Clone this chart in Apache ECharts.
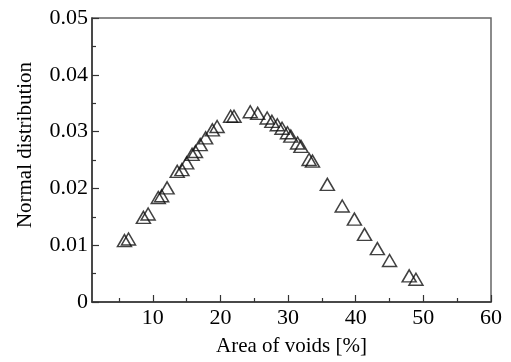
<!DOCTYPE html>
<html>
<head>
<meta charset="utf-8">
<script src="https://cdn.jsdelivr.net/npm/echarts@6/dist/echarts.min.js"></script>
<style>
html,body{margin:0;padding:0;background:#fff;}
#chart{width:511px;height:362px;}
</style>
</head>
<body>
<div id="chart"></div>
<script>
// Data
var areaOfVoids = [5.8, 6.4, 8.6, 9.3, 10.8, 11.3, 12.1, 13.6, 14.3, 15.0, 15.8, 16.3, 17.0, 17.8, 18.8, 19.5, 21.5, 22.0, 24.4, 25.5, 26.9, 27.6, 28.4, 29.1, 29.9, 30.4, 31.4, 31.9, 33.1, 33.6, 35.8, 38.0, 39.8, 41.3, 43.2, 45.0, 47.9, 48.9];
var normalDist = [0.0108, 0.0111, 0.0149, 0.0155, 0.0184, 0.0187, 0.0201, 0.0230, 0.0233, 0.0245, 0.0260, 0.0265, 0.0277, 0.0289, 0.0303, 0.0309, 0.0327, 0.0327, 0.0335, 0.0332, 0.0324, 0.0318, 0.0312, 0.0306, 0.0298, 0.0292, 0.0280, 0.0274, 0.0251, 0.0248, 0.0207, 0.0169, 0.0146, 0.0119, 0.0094, 0.0073, 0.0046, 0.0040];
var xMajorTicks = [10, 20, 30, 40, 50, 60];
var xMinorTicks = [5, 15, 25, 35, 45, 55];
var xName = 'Area of voids [%]';
var yName = 'Normal distribution';

var points = areaOfVoids.map(function (x, i) { return [x, normalDist[i]]; });
var font = 'Liberation Serif';

var chart = echarts.init(document.getElementById('chart'), null, {renderer: 'canvas'});
chart.setOption({
  animation: false,
  backgroundColor: '#fff',
  grid: {left: 92, right: 20, top: 18, bottom: 59, show: true, borderColor: '#666', borderWidth: 1.5, backgroundColor: 'transparent'},
  xAxis: [{
    type: 'value', min: 1, max: 60,
    name: xName, nameLocation: 'middle', nameGap: 34,
    nameTextStyle: {fontFamily: font, fontSize: 21, color: '#000'},
    axisLine: {show: true, onZero: false, lineStyle: {color: '#333', width: 1.5}},
    axisTick: {show: true, inside: true, length: 7, customValues: xMajorTicks, lineStyle: {color: '#333', width: 1.2}},
    axisLabel: {show: true, customValues: xMajorTicks, fontFamily: font, fontSize: 22, color: '#000', margin: 5},
    splitLine: {show: false}
  }, {
    type: 'value', min: 1, max: 60, position: 'bottom',
    axisLine: {show: false},
    axisTick: {show: true, inside: true, length: 4, customValues: xMinorTicks, lineStyle: {color: '#333', width: 1.2}},
    axisLabel: {show: false},
    splitLine: {show: false}
  }],
  yAxis: {
    type: 'value', min: 0, max: 0.05, interval: 0.01,
    name: yName, nameLocation: 'middle', nameGap: 56,
    nameTextStyle: {fontFamily: font, fontSize: 21, color: '#000', padding: [0, 0, 0, 30]},
    axisLine: {show: true, onZero: false, lineStyle: {color: '#333', width: 1.5}},
    axisTick: {show: true, inside: true, length: 7, lineStyle: {color: '#333', width: 1.2}},
    minorTick: {show: true, splitNumber: 2, length: 4, lineStyle: {color: '#333', width: 1.2}},
    axisLabel: {fontFamily: font, fontSize: 22, color: '#000', margin: 4,
      formatter: function (v) { return v === 0 ? '0' : v.toFixed(2); }},
    splitLine: {show: false},
    minorSplitLine: {show: false}
  },
  series: [{
    type: 'scatter',
    xAxisIndex: 0,
    data: points,
    symbol: 'triangle',
    symbolSize: [14, 12],
    itemStyle: {color: 'rgba(255,255,255,0)', borderColor: '#111', borderWidth: 1.5}
  }]
});
</script>
</body>
</html>
